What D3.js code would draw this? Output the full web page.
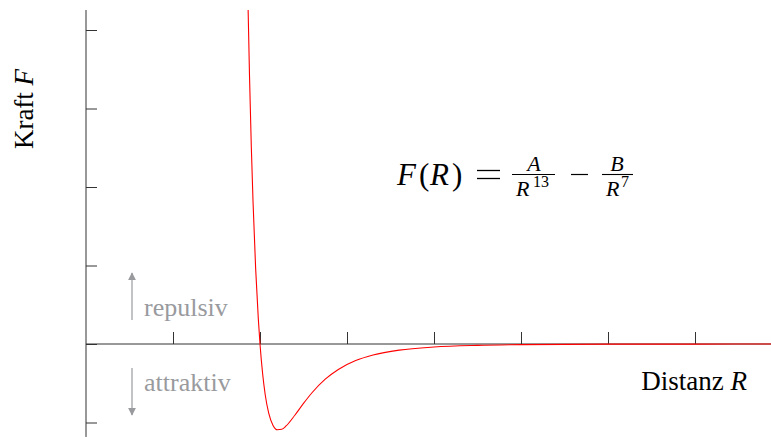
<!DOCTYPE html>
<html>
<head>
<meta charset="utf-8">
<script src="https://cdn.jsdelivr.net/npm/d3@7"></script>
<style>
  html, body { margin: 0; padding: 0; background: #fff; }
  svg { display: block; }
  text { font-family: "Liberation Serif", "Times New Roman", serif; }
</style>
</head>
<body>
<svg id="chart" width="771" height="437"></svg>
<script>
// Force between two atoms over distance R
const distR = [1.86, 1.88, 1.90, 1.92, 1.95, 1.98, 2.00, 2.03, 2.06, 2.10, 2.15, 2.20, 2.25,
               2.30, 2.40, 2.50, 2.60, 2.75, 2.90, 3.10, 3.30, 3.60, 4.00, 4.50, 5.00, 6.00, 7.00, 7.90];
const forceF = [4.44, 3.39, 2.52, 1.81, 0.96, 0.33, 0.00, -0.376, -0.646, -0.882, -1.037, -1.093, -1.087,
                -1.044, -0.908, -0.757, -0.618, -0.448, -0.324, -0.211, -0.140, -0.078, -0.038, -0.017, -0.008, -0.002, -0.001, 0.000];
const xTicks = [1, 2, 3, 4, 5, 6, 7];
const yTicks = [-1, 0, 1, 2, 3, 4];
const xLimits = [0, 7.874];
const yLimits = [-1.184, 4.255];

const svg = d3.select("#chart");
const x = d3.scaleLinear().domain([0, 7]).range([86, 695]);
const y = d3.scaleLinear().domain([0, 4]).range([344, 30]);

const axisColor = "#333";
const gray = "#999a9e";

// clip region for the curve
svg.append("clipPath").attr("id", "plotClip")
  .append("rect")
  .attr("x", x(xLimits[0])).attr("y", y(yLimits[1]))
  .attr("width", x(xLimits[1]) - x(xLimits[0]))
  .attr("height", y(yLimits[0]) - y(yLimits[1]));

// axes: vertical through R = 0, horizontal through F = 0
const xAxis = d3.axisTop(x).tickValues(xTicks).tickSize(12).tickFormat("");
const gx = svg.append("g").attr("transform", `translate(0,${y(0)})`).call(xAxis);
gx.select(".domain").remove();
gx.selectAll(".tick line").attr("stroke", axisColor).attr("stroke-width", 1);

const yAxis = d3.axisRight(y).tickValues(yTicks).tickSize(11).tickFormat("");
const gy = svg.append("g").attr("transform", `translate(${x(0)},0)`).call(yAxis);
gy.select(".domain").remove();
gy.selectAll(".tick line").attr("stroke", axisColor).attr("stroke-width", 1);

svg.append("line")
  .attr("x1", x(xLimits[0])).attr("x2", x(xLimits[1]))
  .attr("y1", y(0)).attr("y2", y(0))
  .attr("stroke", axisColor).attr("stroke-width", 1);
svg.append("line")
  .attr("x1", x(0)).attr("x2", x(0))
  .attr("y1", y(yLimits[1])).attr("y2", y(yLimits[0]))
  .attr("stroke", axisColor).attr("stroke-width", 1);

// force curve
const pts = distR.map((r, i) => [r, forceF[i]]);
const line = d3.line().x(d => x(d[0])).y(d => y(d[1])).curve(d3.curveMonotoneX);
svg.append("path")
  .datum(pts)
  .attr("clip-path", "url(#plotClip)")
  .attr("d", line)
  .attr("fill", "none")
  .attr("stroke", "#ff0000")
  .attr("stroke-width", 1.1);

// axis titles
const ky = svg.append("text")
  .attr("transform", "translate(33,109) rotate(-90)")
  .attr("text-anchor", "middle")
  .attr("font-size", 27)
  .attr("fill", "#000");
ky.append("tspan").text("Kraft ");
ky.append("tspan").attr("font-style", "italic").text("F");

const kx = svg.append("text")
  .attr("x", 747).attr("y", 390)
  .attr("text-anchor", "end")
  .attr("font-size", 27)
  .attr("fill", "#000");
kx.append("tspan").text("Distanz ");
kx.append("tspan").attr("font-style", "italic").text("R");

// repulsive / attractive hints
svg.append("defs").append("marker")
  .attr("id", "arrowHead")
  .attr("viewBox", "0 0 10 10")
  .attr("refX", 9).attr("refY", 5)
  .attr("markerWidth", 8).attr("markerHeight", 8)
  .attr("markerUnits", "userSpaceOnUse")
  .attr("orient", "auto")
  .append("path").attr("d", "M0,0 L10,5 L0,10 Z").attr("fill", gray);

svg.append("line")
  .attr("x1", 132).attr("x2", 132).attr("y1", 320).attr("y2", 273)
  .attr("stroke", gray).attr("stroke-width", 1.2)
  .attr("marker-end", "url(#arrowHead)");
svg.append("line")
  .attr("x1", 132).attr("x2", 132).attr("y1", 368).attr("y2", 415)
  .attr("stroke", gray).attr("stroke-width", 1.2)
  .attr("marker-end", "url(#arrowHead)");

svg.append("text").attr("x", 144).attr("y", 316)
  .attr("font-size", 26).attr("fill", gray).text("repulsiv");
svg.append("text").attr("x", 144).attr("y", 391)
  .attr("font-size", 26).attr("fill", gray).text("attraktiv");

// formula F(R) = A/R^13 - B/R^7, set glyph by glyph
const fm = svg.append("g").attr("fill", "#000");
function glyph(xPos, yPos, size, str, italic, anchor) {
  const t = fm.append("text").attr("x", xPos).attr("y", yPos)
    .attr("font-size", size).text(str);
  if (italic) t.attr("font-style", "italic");
  if (anchor) t.attr("text-anchor", anchor);
  return t;
}
glyph(397, 185, 31, "F", true);
glyph(419, 185, 31, "(", false);
glyph(430, 185, 31, "R", true);
glyph(452, 185, 31, ")", false);
fm.append("line").attr("x1", 477).attr("x2", 500).attr("y1", 170.5).attr("y2", 170.5)
  .attr("stroke", "#000").attr("stroke-width", 1.3);
fm.append("line").attr("x1", 477).attr("x2", 500).attr("y1", 178.5).attr("y2", 178.5)
  .attr("stroke", "#000").attr("stroke-width", 1.3);

function fraction(num, numCx, denX, pow, powX, x0, x1) {
  glyph(numCx, 171, 22, num, true, "middle");
  fm.append("line").attr("x1", x0).attr("x2", x1).attr("y1", 174.5).attr("y2", 174.5)
    .attr("stroke", "#000").attr("stroke-width", 1.1);
  glyph(denX, 195.5, 22, "R", true);
  glyph(powX, 187, 16, pow, false);
}
fraction("A", 534, 516, "13", 533, 512, 555);
fm.append("line").attr("x1", 571).attr("x2", 588).attr("y1", 174.5).attr("y2", 174.5)
  .attr("stroke", "#000").attr("stroke-width", 1.2);
fraction("B", 617, 606, "7", 621, 602, 633);
</script>
</body>
</html>
